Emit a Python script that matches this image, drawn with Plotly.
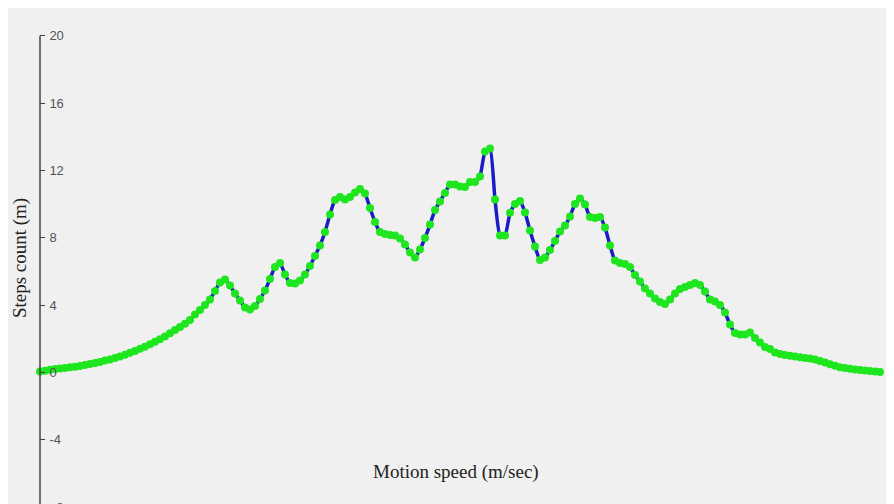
import numpy as np
import plotly.graph_objects as go

# Steps count readings, sampled every 0.05 m/sec of motion speed
steps = [
    0.06, 0.11, 0.16, 0.21, 0.24, 0.27, 0.31, 0.34, 0.39, 0.44,
    0.50, 0.56, 0.63, 0.71, 0.78, 0.86, 0.95, 1.05, 1.17, 1.28,
    1.41, 1.53, 1.68, 1.83, 1.98, 2.14, 2.33, 2.52, 2.70, 2.90,
    3.12, 3.45, 3.71, 4.01, 4.34, 4.84, 5.35, 5.53, 5.17, 4.69,
    4.28, 3.86, 3.74, 3.95, 4.37, 4.87, 5.56, 6.27, 6.51, 5.82,
    5.32, 5.29, 5.47, 5.82, 6.33, 6.92, 7.55, 8.35, 9.39, 10.25,
    10.43, 10.28, 10.43, 10.70, 10.90, 10.64, 9.77, 8.94, 8.35, 8.23,
    8.17, 8.14, 7.96, 7.61, 7.13, 6.83, 7.31, 7.99, 8.79, 9.66,
    10.16, 10.67, 11.17, 11.17, 11.05, 11.02, 11.32, 11.32, 11.65, 13.13,
    13.31, 10.28, 8.14, 8.14, 9.49, 10.01, 10.19, 9.51, 8.44, 7.49,
    6.68, 6.83, 7.28, 7.81, 8.38, 8.73, 9.27, 10.01, 10.34, 9.98,
    9.24, 9.18, 9.24, 8.62, 7.55, 6.65, 6.51, 6.45, 6.27, 5.79,
    5.41, 4.99, 4.69, 4.40, 4.19, 4.07, 4.34, 4.69, 4.96, 5.08,
    5.20, 5.32, 5.20, 4.81, 4.34, 4.22, 4.01, 3.57, 2.85, 2.35,
    2.26, 2.26, 2.38, 2.05, 1.78, 1.52, 1.40, 1.19, 1.10, 1.04,
    0.99, 0.95, 0.90, 0.87, 0.84, 0.78, 0.68, 0.59, 0.49, 0.40,
    0.32, 0.27, 0.23, 0.18, 0.15, 0.12, 0.09, 0.06, 0.03,
]
speed = np.round(np.arange(len(steps)) * 0.05, 2)

y_ticks = [-8, -4, 0, 4, 8, 12, 16, 20]
y_tick_labels = ["-8", "-4", "0", "4", "8", "12", "16", "20"]
x_title = "Motion speed (m/sec)"
y_title = "Steps count (m)"

y_min, y_max = -7.81, 21.0

fig = go.Figure()
fig.add_trace(go.Scatter(
    x=speed, y=steps, mode="lines+markers",
    line=dict(color="#1c1cc4", width=3.5, shape="spline", smoothing=0.5),
    marker=dict(color="#1ee61e", size=8, line=dict(width=0)),
    cliponaxis=False, showlegend=False, hoverinfo="skip",
))

fig.update_layout(
    width=894, height=504,
    margin=dict(l=32, r=8, t=11, b=8),
    paper_bgcolor="#f0f0f0", plot_bgcolor="#f0f0f0",
    xaxis=dict(visible=False, range=[0, 8.54]),
    yaxis=dict(
        range=[y_min, y_max], showgrid=False, zeroline=False,
        showline=False,
        ticks="inside", ticklen=5, tickwidth=1.2, tickcolor="#444444",
        tickvals=y_ticks, ticktext=y_tick_labels,
        ticklabelposition="inside", ticklabelstandoff=4,
        tickfont=dict(family="Liberation Sans, Arial", size=13, color="#555555"),
    ),
    shapes=[
        dict(type="line", xref="paper", yref="y", x0=0, x1=0,
             y0=y_min - 1, y1=y_ticks[-1], line=dict(color="#444444", width=1.5)),
    ],
    annotations=[
        dict(text=x_title, xref="paper", yref="paper", x=0.487, y=0.066,
             xanchor="center", yanchor="middle", showarrow=False,
             font=dict(family="Liberation Serif, Times New Roman", size=19, color="#222222")),
        dict(text=y_title, xref="paper", yref="paper", x=-0.0234, y=0.507,
             xanchor="center", yanchor="middle", showarrow=False, textangle=-90,
             font=dict(family="Liberation Serif, Times New Roman", size=19, color="#222222")),
        dict(text=y_tick_labels[0], xref="paper", yref="paper", x=0.0117, y=-0.0066,
             xanchor="left", yanchor="middle", showarrow=False,
             font=dict(family="Liberation Sans, Arial", size=13, color="#555555")),
    ],
)

fig.write_html("out.html")
